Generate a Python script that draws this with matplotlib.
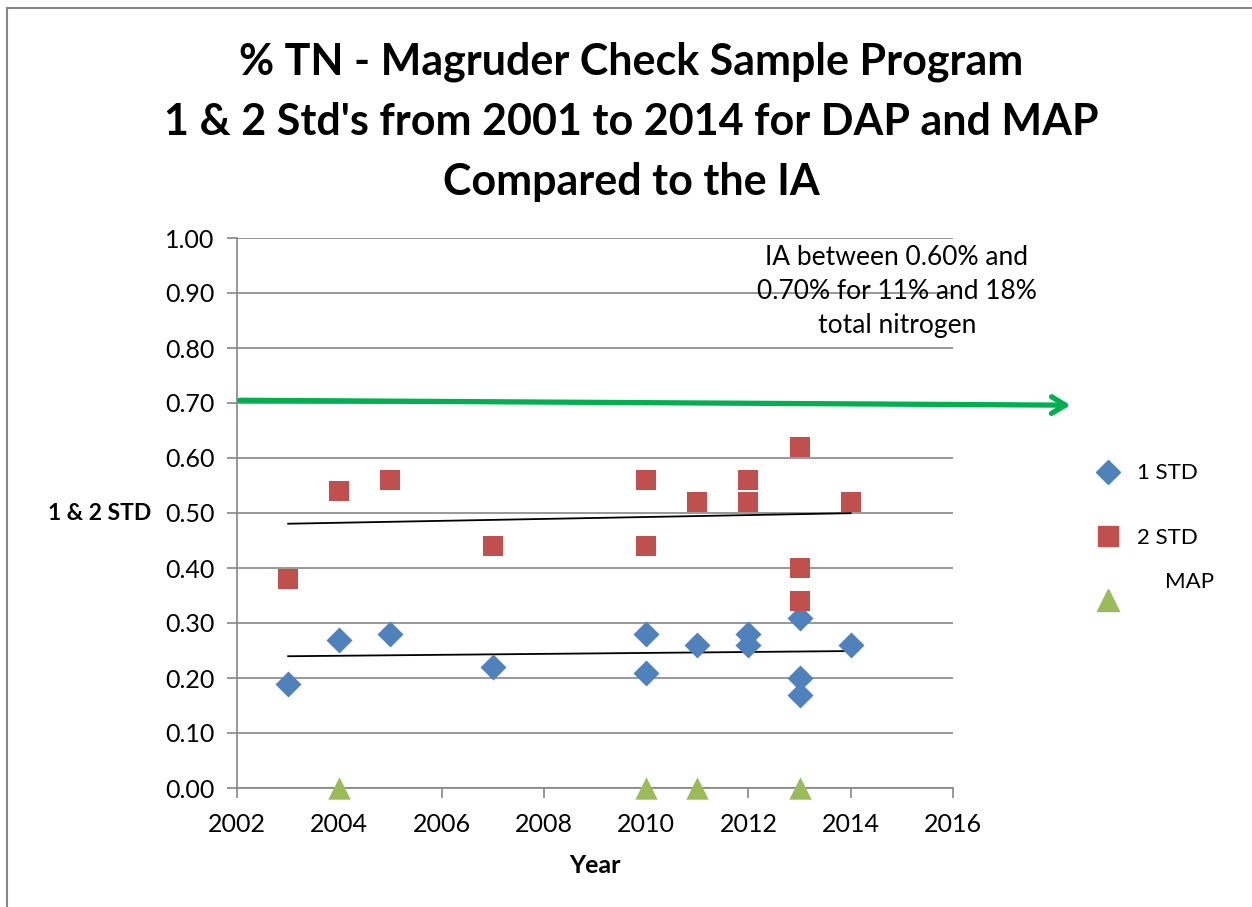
import numpy as np
import matplotlib
matplotlib.use('Agg')
import matplotlib.pyplot as plt
import matplotlib.patches as patches
from matplotlib.lines import Line2D

plt.rcParams['font.family'] = ['Lato', 'DejaVu Sans']

# 1 STD values (blue diamonds)
std1_years = [2003, 2004, 2005, 2007, 2010, 2010, 2011, 2012, 2012, 2013, 2013, 2013, 2014]
std1_vals = [0.19, 0.27, 0.28, 0.22, 0.28, 0.21, 0.26, 0.28, 0.26, 0.31, 0.20, 0.17, 0.26]

# 2 STD values (red squares)
std2_years = [2003, 2004, 2005, 2007, 2010, 2010, 2011, 2012, 2012, 2013, 2013, 2013, 2014]
std2_vals = [0.38, 0.54, 0.56, 0.44, 0.56, 0.44, 0.52, 0.56, 0.52, 0.62, 0.40, 0.34, 0.52]

# MAP (green triangles)
map_years = [2004, 2010, 2011, 2013]
map_vals = [0.0, 0.0, 0.0, 0.0]

ia_limit = 0.70

blue = "#4F81BD"
red = "#C0504D"
green = "#9BBB59"
gray = "#868686"

fig = plt.figure(figsize=(12.52, 9.07), dpi=100)
ax = fig.add_axes([237/1252, 1 - 788/907, 716/1252, 550/907])

# outer chart border
fig.patches.append(patches.Rectangle((7/1252, -0.1), 2, 1 - 8/907 + 0.1,
	transform=fig.transFigure, fill=False, edgecolor=gray, linewidth=1.5))

ax.scatter(std1_years, std1_vals, marker="D", s=175, color=blue, zorder=3, linewidths=0)
ax.scatter(std2_years, std2_vals, marker="s", s=200, color=red, zorder=3, linewidths=0)
ax.scatter(map_years, map_vals, marker="^", s=260, color=green, zorder=3, linewidths=0, clip_on=False)

# linear trend lines
for xs, ys in [(std1_years, std1_vals), (std2_years, std2_vals)]:
	p = np.polyfit(xs, ys, 1)
	xx = np.array([min(xs), max(xs)])
	ax.plot(xx, np.polyval(p, xx), color="black", linewidth=1.3, zorder=2)

ax.set_xlim(2002, 2016)
ax.set_ylim(0, 1.0)
ax.set_xticks(np.arange(2002, 2017, 2))
ax.set_yticks(np.arange(0, 1.01, 0.1))
ax.set_yticklabels(["%.2f" % v for v in np.arange(0, 1.01, 0.1)])
ax.grid(axis="y", color=gray, linewidth=1.2)
ax.set_axisbelow(True)
for s in ["top", "right"]:
	ax.spines[s].set_visible(False)
for s in ["left", "bottom"]:
	ax.spines[s].set_color(gray)
	ax.spines[s].set_linewidth(1.2)
ax.tick_params(axis="both", direction="out", length=7, color=gray, width=1.2, labelsize=18)
ax.tick_params(axis="x", pad=11)
ax.tick_params(axis="y", pad=9)

ax.set_xlabel("Year", fontsize=18, fontweight="bold", labelpad=13)
ax.set_ylabel("1 & 2 STD", fontsize=16.5, fontweight="bold", rotation=0, labelpad=10, va="center", ha="right")

# IA arrow
ax.annotate("", xy=(1.168, 0.696), xytext=(2002, 0.705),
	xycoords="axes fraction", textcoords="data",
	arrowprops=dict(arrowstyle="->,head_length=1.0,head_width=0.6", color="#00B050", linewidth=3.8),
	annotation_clip=False)

ax.text(2014.9, 0.903, "IA between 0.60% and\n0.70% for 11% and 18%\ntotal nitrogen",
	fontsize=19, ha="center", va="center", linespacing=1.45)

fig.suptitle("% TN - Magruder Check Sample Program\n1 & 2 Std's from 2001 to 2014 for DAP and MAP\nCompared to the IA",
	fontsize=31, fontweight="bold", x=631/1252, y=1 - 41/907, va="top", linespacing=1.62)

handles = [
	Line2D([], [], marker="D", color=blue, linestyle="none", markersize=12),
	Line2D([], [], marker="s", color=red, linestyle="none", markersize=14),
	Line2D([], [], marker="^", color=green, linestyle="none", markersize=16),
]
leg = ax.legend(handles, ["1 STD", "2 STD", ""], loc="center left", bbox_to_anchor=(1.158, 0.455),
	frameon=False, fontsize=16, labelspacing=2.0, handletextpad=0.3)
fig.text(1165/1252, 1 - 582/907, "MAP", fontsize=16, va="center", ha="left")

fig.savefig("out.png", dpi=100)
